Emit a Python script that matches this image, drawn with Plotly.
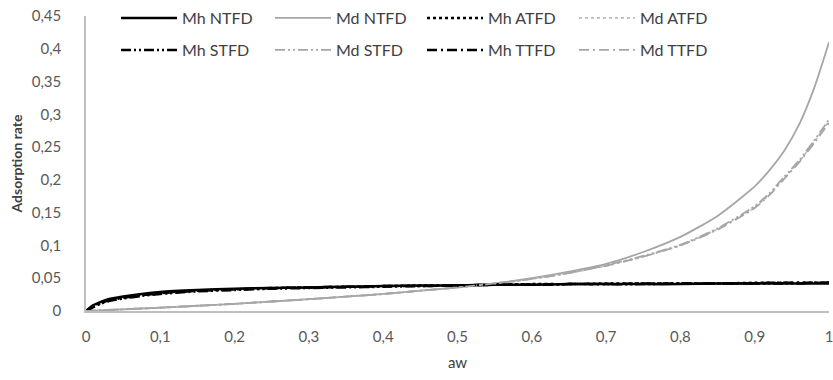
import plotly.graph_objects as go

aw = [0, 0.005, 0.01, 0.02, 0.03, 0.05, 0.075, 0.1, 0.15, 0.2, 0.25, 0.3, 0.35, 0.4, 0.45,
      0.5, 0.55, 0.6, 0.65, 0.7, 0.75, 0.8, 0.85, 0.9, 0.92, 0.94, 0.96, 0.98, 1.0]

mh_ntfd = [0, 0.005, 0.009, 0.014, 0.018, 0.022, 0.026, 0.029, 0.032, 0.034, 0.035, 0.036, 0.037, 0.038, 0.039,
           0.039, 0.040, 0.040, 0.041, 0.041, 0.041, 0.041, 0.042, 0.042, 0.042, 0.042, 0.042, 0.042, 0.042]
mh_atfd = [0, 0.004, 0.008, 0.013, 0.017, 0.021, 0.025, 0.028, 0.031, 0.033, 0.035, 0.036, 0.037, 0.038, 0.039,
           0.039, 0.040, 0.041, 0.041, 0.042, 0.042, 0.042, 0.042, 0.043, 0.043, 0.043, 0.043, 0.043, 0.043]
mh_stfd = [0, 0.003, 0.006, 0.011, 0.015, 0.019, 0.023, 0.026, 0.030, 0.032, 0.034, 0.035, 0.036, 0.037, 0.038,
           0.039, 0.040, 0.040, 0.041, 0.041, 0.041, 0.042, 0.042, 0.042, 0.042, 0.042, 0.042, 0.043, 0.043]
mh_ttfd = [0, 0.003, 0.007, 0.012, 0.016, 0.020, 0.024, 0.027, 0.031, 0.033, 0.035, 0.036, 0.037, 0.038, 0.038,
           0.039, 0.040, 0.040, 0.041, 0.041, 0.042, 0.042, 0.042, 0.042, 0.043, 0.043, 0.043, 0.043, 0.043]

md_ntfd = [0, 0.0002, 0.0005, 0.001, 0.0015, 0.0025, 0.0038, 0.005, 0.008, 0.011, 0.0145, 0.018, 0.022, 0.026, 0.031,
           0.036, 0.042, 0.050, 0.060, 0.072, 0.090, 0.113, 0.145, 0.190, 0.215, 0.245, 0.285, 0.340, 0.410]
md_atfd = [0, 0.0002, 0.0005, 0.001, 0.0015, 0.0025, 0.0038, 0.005, 0.008, 0.011, 0.0145, 0.018, 0.022, 0.026, 0.031,
           0.036, 0.042, 0.049, 0.058, 0.069, 0.083, 0.100, 0.125, 0.158, 0.178, 0.203, 0.228, 0.258, 0.290]
md_stfd = [0, 0.0002, 0.0005, 0.001, 0.0015, 0.0025, 0.0038, 0.005, 0.008, 0.011, 0.0145, 0.018, 0.022, 0.026, 0.031,
           0.036, 0.042, 0.049, 0.058, 0.070, 0.084, 0.101, 0.126, 0.160, 0.180, 0.205, 0.230, 0.260, 0.292]
md_ttfd = [0, 0.0002, 0.0005, 0.001, 0.0015, 0.0025, 0.0038, 0.005, 0.008, 0.011, 0.0145, 0.018, 0.022, 0.026, 0.031,
           0.036, 0.042, 0.049, 0.058, 0.069, 0.083, 0.100, 0.124, 0.157, 0.177, 0.202, 0.227, 0.256, 0.287]

x_ticks = [0, 0.1, 0.2, 0.3, 0.4, 0.5, 0.6, 0.7, 0.8, 0.9, 1]
x_ticktext = ["0", "0,1", "0,2", "0,3", "0,4", "0,5", "0,6", "0,7", "0,8", "0,9", "1"]
y_ticks = [0, 0.05, 0.1, 0.15, 0.2, 0.25, 0.3, 0.35, 0.4, 0.45]
y_ticktext = ["0", "0,05", "0,1", "0,15", "0,2", "0,25", "0,3", "0,35", "0,4", "0,45"]

BLACK = "#000000"
GRAY = "#a6a6a6"
LGRAY = "#bcbcbc"

series = [
    ("Mh NTFD", mh_ntfd, BLACK, 2.5, "solid"),
    ("Md NTFD", md_ntfd, GRAY, 1.8, "solid"),
    ("Mh ATFD", mh_atfd, BLACK, 2.5, "dot"),
    ("Md ATFD", md_atfd, LGRAY, 1.8, "dot"),
    ("Mh STFD", mh_stfd, BLACK, 2.5, "10px,3px,2px,3px,2px,3px"),
    ("Md STFD", md_stfd, GRAY, 1.8, "10px,3px,2px,3px,2px,3px"),
    ("Mh TTFD", mh_ttfd, BLACK, 2.5, "10px,4px,2px,4px"),
    ("Md TTFD", md_ttfd, GRAY, 1.8, "10px,4px,2px,4px"),
]

# legend layout: 4 columns x 2 rows (pixel positions of each entry)
PLOT_L, PLOT_R, PLOT_T, PLOT_B = 86, 829, 16, 311
col_px = [116, 270, 422, 574]
row_px = [18, 50]

FONT = "Lato, 'Open Sans', sans-serif"

fig = go.Figure()
legends = {}
for i, (name, ys, color, w, dash) in enumerate(series):
    key = "legend" if i == 0 else f"legend{i + 1}"
    fig.add_trace(go.Scatter(
        x=aw, y=ys, name=name, mode="lines",
        line=dict(color=color, width=w, dash=dash, shape="spline", smoothing=0.6),
        legend=key,
    ))
    cx = col_px[i % 4]
    ry = row_px[i // 4]
    legends[key] = dict(
        orientation="h", xanchor="left", yanchor="middle",
        x=(cx - PLOT_L) / (PLOT_R - PLOT_L),
        y=(PLOT_B - ry) / (PLOT_B - PLOT_T),
        font=dict(family=FONT, size=16, color="#404040"),
        bgcolor="rgba(0,0,0,0)", itemwidth=56,
    )

fig.update_layout(
    width=833, height=380,
    margin=dict(l=PLOT_L, r=833 - PLOT_R, t=PLOT_T, b=380 - PLOT_B, autoexpand=False),
    paper_bgcolor="white", plot_bgcolor="white",
    font=dict(family=FONT, size=15, color="#595959"),
    showlegend=True,
    xaxis=dict(
        range=[0, 1], tickvals=x_ticks, ticktext=x_ticktext,
        showgrid=False, zeroline=False, showline=True, linecolor="#bfbfbf", linewidth=1.5,
        ticks="", ticklabelstandoff=11, automargin=False, ticklabeloverflow="allow",
        title=dict(text="aw", font=dict(family=FONT, size=15, color="#404040"), standoff=14),
    ),
    yaxis=dict(
        range=[0, 0.45], tickvals=y_ticks, ticktext=y_ticktext,
        showgrid=False, zeroline=False, showline=True, linecolor="#bfbfbf", linewidth=1.5,
        ticks="", ticklabelstandoff=20, automargin=False,
        title=dict(text="<b>Adsorption rate</b>", font=dict(family=FONT, size=14, color="#404040"), standoff=6),
    ),
    **legends,
)

fig.write_html("out.html", config={"displayModeBar": False},
               post_script="document.body.style.margin='0';")
